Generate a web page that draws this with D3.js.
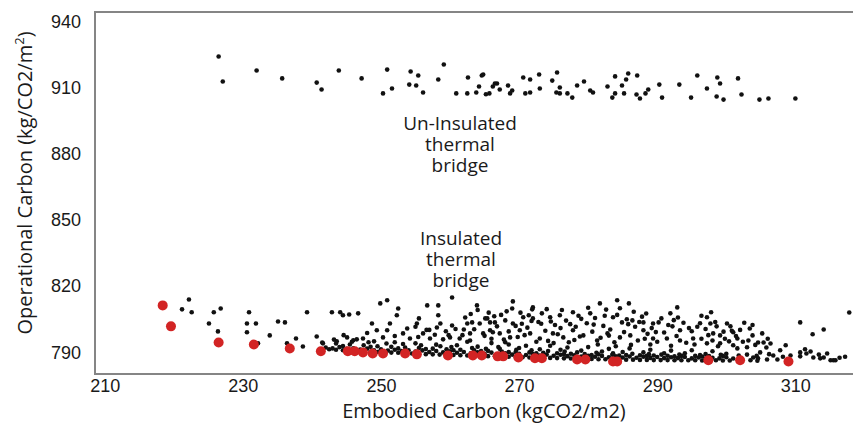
<!DOCTYPE html>
<html>
<head>
<meta charset="utf-8">
<script src="https://cdn.jsdelivr.net/npm/d3@7"></script>
<style>
  body { margin: 0; background: #fff; }
  svg { display: block; font-family: 'Open Sans', sans-serif; }
  .tick text { font-size: 18px; fill: #1a1a1a; }
  .title { font-size: 20px; fill: #1a1a1a; }
  .note { font-size: 19px; fill: #1a1a1a; }
</style>
</head>
<body>
<script>
var xTicks = [210, 230, 250, 270, 290, 310],
    yTicks = [790, 820, 850, 880, 910, 940];

// Un-insulated thermal bridge designs [embodied, operational]
var unInsulated = [
  [226.5,924.1],[227.1,912.8],[232.0,917.8],[235.7,914.2],[240.7,912.3],[241.4,909.2],
  [243.9,917.8],[247.2,914.2],[250.3,907.4],[250.9,918.2],[251.6,909.6],[254.3,917.3],
  [255.4,915.5],[254.1,911.4],[255.1,911.0],[256.1,907.8],[259.1,920.5],[258.3,913.7],
  [260.9,907.4],[262.5,907.4],[262.6,914.6],[263.8,907.8],[264.6,915.5],[264.2,910.5],
  [265.7,907.4],[266.2,910.5],[266.8,911.9],[264.8,916.0],[265.2,907.0],[266.5,911.9],
  [267.2,909.2],[268.4,911.0],[268.7,907.4],[269.0,908.7],[270.6,914.6],[271.6,913.7],
  [270.9,907.4],[271.6,907.8],[272.9,916.0],[273.0,909.6],[274.8,913.2],[275.5,916.9],
  [275.4,907.8],[275.9,910.1],[275.9,907.4],[277.0,907.4],[277.7,905.5],[278.4,911.0],
  [279.4,912.8],[280.3,908.7],[280.7,907.8],[282.8,910.5],[283.5,905.5],[283.9,915.1],
  [283.9,907.4],[284.9,911.0],[285.5,913.7],[285.8,916.4],[287.1,915.5],[285.2,907.4],
  [287.0,906.9],[287.5,905.1],[288.3,907.4],[288.7,909.2],[290.3,911.4],[290.7,905.5],
  [293.2,911.4],[294.9,905.5],[295.8,915.5],[297.2,909.6],[298.7,914.6],[299.1,911.9],
  [298.6,906.0],[299.6,904.6],[301.7,914.2],[302.2,906.9],[304.8,904.6],[306.1,905.1],
  [310.0,905.1]
];

// Insulated thermal bridge designs
var insulated = [
  [222.2,814.0],[221.2,809.5],[222.6,808.2],[225.8,808.2],[226.8,809.9],[225.1,803.1],
  [226.4,799.5],[230.9,808.2],[230.6,803.1],[231.9,803.1],[230.6,799.1],[232.2,794.1],
  [233.9,797.7],[235.1,804.0],[236.1,803.6],[236.4,794.1],[237.7,796.3],[239.3,808.2],
  [238.7,792.7],[240.7,797.2],[242.9,808.2],[244.1,808.2],[244.5,806.8],[245.4,807.2],
  [246.7,807.7],[245.1,796.8],[248.7,803.1],[249.9,812.2],[250.9,813.6],[251.3,803.1],
  [252.5,809.9],[252.3,806.8],[255.2,803.1],[255.5,805.4],[256.7,811.3],[258.3,811.3],
  [258.3,806.8],[260.3,814.9],[258.1,801.3],[260.3,802.2],[258.6,803.1],[263.9,811.3],
  [262.5,803.1],[263.2,803.6],[264.3,803.1],[265.1,805.4],[265.8,803.6],[249.4,800.0],
  [250.9,800.0],[250.3,796.8],[247.4,796.3],[246.5,795.9],[243.6,795.0],[241.6,794.1],
  [253.2,798.6],[254.2,796.3],[256.1,798.6],[257.1,796.3],[259.0,795.9],[260.0,796.8],
  [261.4,796.3],[262.9,798.6],[264.8,798.6],[262.9,795.4],[266.2,799.1],
  [269.1,813.1],[269.0,809.9],[271.9,809.5],[272.0,810.4],[265.4,805.4],[266.5,803.6],
  [268.0,804.5],[269.1,803.1],[270.6,805.9],[272.0,805.4],[273.3,807.7],[274.5,805.9],
  [275.9,806.8],[277.8,808.2],[280.3,807.7],[281.7,812.2],[284.2,813.6],[285.9,812.2],
  [283.6,805.9],[284.9,803.6],[286.4,804.5],[288.0,803.6],[289.4,803.1],[291.9,807.7],
  [292.9,810.4],[293.3,800.0],[297.2,805.9],[297.7,803.1],[300.1,803.1],[298.1,798.6],
  [299.1,797.7],[301.0,799.1],[301.6,796.3],[303.8,797.7],[304.6,794.5],[305.4,794.5],
  [265.8,800.0],[267.2,798.6],[268.7,796.8],[270.1,800.0],[271.6,798.6],[273.0,796.3],
  [274.9,798.6],[276.4,796.8],[277.8,800.0],[279.3,797.7],[281.3,795.4],[282.8,798.6],
  [284.6,796.8],[286.1,797.7],[288.0,800.0],[289.4,796.3],[291.4,796.3],[293.3,795.4],
  [295.2,796.3],[297.2,794.1],[299.1,794.1],[301.0,793.2],[303.0,792.3],[304.9,790.0],
  [306.8,788.6],[309.3,788.6],[310.7,790.0],[312.6,787.7],[314.1,787.7],[315.5,786.4],
  [310.7,803.6],[312.5,798.2],[314.1,800.4],[317.8,808.1],
  [315.1,786.4],[315.8,786.4],[313.6,787.3],[314.6,789.5],[311.6,789.5],[310.7,788.2],
  [307.4,786.8],[305.9,786.8],[304.6,787.3],[303.9,787.7],
  // dense band just above the optimum front
  [242,792.2],[243,791.8],[244,792.4],[245,791.6],[246,791.9],[247,791.3],[248,791.7],
  [249,791.0],[250,791.4],[251,790.8],[252,791.2],[253,790.6],[254,791.0],[255,790.4],
  [256,790.9],[257,790.2],[258,790.6],[259,790.0],[260,790.5],[261,789.8],[262,790.2],
  [263,789.6],[264,790.0],[265,789.4],[266,789.9],[267,789.2],[268,789.6],[269,789.0],
  [270,789.4],[271,788.8],[272,789.2],[273,788.6],[274,789.0],[275,788.5],[276,788.9],
  [277,788.3],[278,788.7],[279,788.1],[280,788.5],[281,788.0],[282,788.4],[283,787.8],
  [284,788.2],[285,787.7],[286,788.1],[287,787.6],[288,788.0],[289,787.5],[290,787.9],
  [291,787.4],[292,787.8],[293,787.4],[294,787.9],[295,787.3],[296,787.7],[297,787.2],
  [298,787.6],[299,787.3],[300,787.8],[301,787.2],[302,787.5],
  [242.5,791.4],[243.5,791.2],[244.5,791.0],[245.5,790.9],[246.5,790.7],[247.5,790.5],
  [248.5,790.3],[249.5,790.2],[250.5,790.0],[251.5,789.9],[252.5,789.8],[253.5,789.6],
  [254.5,789.5],[255.5,789.3],[256.5,789.2],[257.5,789.1],[258.5,789.0],[259.5,788.9],
  [260.5,788.8],[261.5,788.7],[262.5,788.6],[263.5,788.5],[264.5,788.4],[265.5,788.3],
  [266.5,788.3],[267.5,788.1],[268.5,788.0],[269.5,787.9],[270.5,787.8],[271.5,787.7],
  [272.5,787.6],[273.5,787.5],[274.5,787.5],[275.5,787.4],[276.5,787.3],[277.5,787.2],
  [278.5,787.1],[279.5,787.1],[280.5,787.0],[281.5,786.9],[282.5,786.9],[283.5,786.8],
  [284.5,786.8],[285.5,786.7],[286.5,786.7],[287.5,786.6],[288.5,786.6],[289.5,786.5],
  [290.5,786.5],[291.5,786.5],[292.5,786.4],[293.5,786.4],[294.5,786.4],[295.5,786.4],
  [296.5,786.3],[298.5,786.4],[299.5,786.3],[300.5,786.3],[303.5,786.4],[304.5,786.2],
  [241.5,794.5],[243.5,794.0],[245.5,793.6],[247.5,793.2],[249.5,792.8],[251.5,792.5],
  [253.5,792.2],[255.5,792.0],[257.5,791.7],[259.5,791.4],[261.5,791.2],[263.5,790.9],
  [265.5,790.7],[267.5,790.4],[269.5,790.2],[271.5,790.0],[273.5,789.8],[275.5,789.6],
  [277.5,789.4],[279.5,789.2],[281.5,789.1],[283.5,788.9],[285.5,788.8],[287.5,788.7],
  [289.5,788.6],[291.5,788.5],[293.5,788.4],[295.5,788.4],[297.5,788.3],[299.5,788.4],
  [244.5,792.9],[248.5,792.5],[252.5,791.8],[256.5,791.5],[260.5,791.0],[264.5,790.6],
  [268.5,790.1],[272.5,789.6],[276.5,789.2],[280.5,788.8],[284.5,788.6],[288.5,788.4],
  [292.5,788.2],[296.5,788.1],
  [246,795.5],[249,795.0],[252,794.6],[255,794.1],[258,793.5],[261,793.2],[264,792.6],
  [267,792.4],[270,792.0],[273,791.4],[276,791.2],[279,790.8],[282,790.4],[285,790.2],
  [288,790.0],[291,789.6],[294,789.6],[297,789.3],[300,789.4],[303,789.0],
  [262.5,794.8],[266,794.2],[268.5,793.6],[271,793.0],[274.5,793.0],[277,792.2],
  [280,792.4],[283,791.6],[286,791.8],[289,791.2],[292,790.8],[295,791.0],[298,790.5],
  [243.2,795.8],[245.8,794.8],[248.2,794.6],[250.8,794.0],[253.2,793.8],[255.8,793.2],
  [258.6,792.8],[260.2,792.4],[263.2,792.0],[265.2,791.6],[267.2,791.6],[269.6,791.2],
  [271.8,791.0],[274.2,790.6],[276.6,790.4],[278.4,790.0],[281.2,789.8],[283.6,789.6],
  [286.4,789.4],[288.8,789.2],[290.6,789.0],[293.2,789.0],[296.2,788.8],[299.2,788.9],
  [301.8,788.6],[304.4,788.4],[306.2,789.2],[308.2,788.0],
  // middle cloud
  [263.5,800.5],[265,797.5],[266.8,801.8],[267.8,795.8],[268.5,799.5],[269.5,802.0],
  [270.8,797.8],[271.2,801.2],[272.5,794.8],[272.8,803.8],[273.8,799.8],[274.2,795.2],
  [275.2,802.4],[275.6,798.2],[276.8,804.4],[277.2,794.6],[278.2,801.6],[278.8,797.2],
  [279.8,803.2],[280.6,799.4],[281.0,805.6],[281.8,796.6],[282.2,802.0],[283.2,800.4],
  [283.8,794.6],[284.2,807.0],[285.2,799.2],[285.6,805.0],[286.8,801.6],[287.2,795.4],
  [287.8,806.2],[288.6,798.4],[289.2,801.0],[290.0,794.8],[290.6,805.4],[291.0,799.0],
  [292.2,801.8],[292.8,797.4],[293.8,803.4],[294.2,794.4],[295.0,799.6],[295.8,801.6],
  [296.4,796.2],[297.0,800.6],[298.0,795.4],[298.6,801.8],[299.6,799.4],[300.4,795.0],
  [301.4,797.4],[302.4,794.8],[303.2,795.4],[304.2,793.4],[305.8,792.2],[306.4,794.0],
  [307.8,791.0],[308.6,793.2],[311.4,791.4],[312.2,790.4],[313.4,789.0],[316.4,787.6],
  [317.2,788.0],
  [253.8,800.8],[255.0,801.6],[256.6,800.2],[257.8,798.0],[259.4,799.6],[260.8,800.6],
  [261.8,797.8],[262.2,805.8],[263.0,807.4],[264.0,809.2],[265.6,808.0],[266.4,806.4],
  [267.4,807.0],[268.2,808.6],[270.2,808.0],[271.4,806.8],[273.2,803.0],[274.0,809.6],
  [276.2,809.2],[278.6,806.6],[280.0,810.2],[282.6,809.4],[284.6,810.0],[286.6,808.4],
  [288.4,807.6],[290.2,803.6],[292.4,804.6],[296.4,806.6],[297.8,808.2],[298.4,803.8],
  [300.6,801.8],[302.6,803.4],[303.4,800.8],[305.2,798.6],[306.0,796.2],
  [270.4,803.0],[271.8,804.2],[274.6,804.0],[276.0,801.0],[277.4,802.8],[279.0,805.2],
  [280.8,802.6],[282.4,806.6],[283.0,797.6],[285.8,802.8],[287.4,803.8],[288.2,796.2],
  [289.8,799.2],[291.6,802.4],[293.0,805.8],[294.6,801.0],[296.2,803.2],[297.4,797.8],
  [299.8,796.2],[300.8,799.8],[302.0,800.2],[303.8,802.4],[275.0,794.2],[278.0,795.6],
  [281.4,793.6],[284.0,792.8],[286.2,793.4],[289.0,793.6],[292.0,793.0],[295.4,793.6],
  [298.8,792.8],[301.6,791.8],[266.0,796.2],[268.0,794.6],[269.8,797.0],[262.0,800.4],
  [259.8,797.8],[257.0,800.2],[255.4,797.0],[252.0,797.4],[248.0,798.8],[244.6,797.8]
];

// optimum (red) insulated designs
var optimal = [
  [218.4,811.3],[219.6,801.8],[226.5,794.5],[231.6,793.6],[236.8,791.8],[241.3,790.5],
  [245.2,790.5],[246.2,790.5],[247.4,790.0],[248.8,789.5],[250.3,789.5],[253.5,789.5],
  [255.2,789.1],[259.7,788.6],[263.3,788.6],[264.6,788.6],[266.9,788.2],[267.7,788.2],
  [269.9,787.7],[272.3,787.3],[273.3,787.3],[278.4,786.8],[279.6,786.8],[283.6,785.9],
  [284.2,785.9],[297.4,786.4],[302.0,786.4],[309.0,785.9]
];

var W = 853, H = 427;
var plotL = 95, plotR = 852, plotT = 12, plotB = 374;

var svg = d3.select('body').append('svg')
    .attr('width', W)
    .attr('height', H);

var x = d3.scaleLinear().domain([208.6, 318.2]).range([plotL, plotR]);
var y = d3.scaleLinear().domain([780.2, 944.3]).range([plotB, plotT]);

// frame (left, top, bottom edges)
svg.append('path')
    .attr('d', 'M' + (plotR + 5) + ',' + plotT + 'H' + plotL + 'V' + plotB + 'H' + (plotR + 5))
    .attr('fill', 'none')
    .attr('stroke', '#858585')
    .attr('stroke-width', 2);

var xAxis = svg.append('g')
    .attr('transform', 'translate(0,' + plotB + ')')
    .call(d3.axisBottom(x).tickValues(xTicks).tickSize(0).tickPadding(5));
xAxis.select('.domain').remove();

var yAxis = svg.append('g')
    .attr('transform', 'translate(' + plotL + ',0)')
    .call(d3.axisLeft(y).tickValues(yTicks).tickSize(0).tickPadding(14));
yAxis.select('.domain').remove();
svg.selectAll('.tick text').attr('font-family', null).attr('font-size', null);

// points
svg.append('g').selectAll('circle')
    .data(insulated).enter().append('circle')
    .attr('cx', function(d) { return x(d[0]); })
    .attr('cy', function(d) { return y(d[1]); })
    .attr('r', 2.3)
    .attr('fill', '#111');

svg.append('g').selectAll('circle')
    .data(unInsulated).enter().append('circle')
    .attr('cx', function(d) { return x(d[0]); })
    .attr('cy', function(d) { return y(d[1]); })
    .attr('r', 2.3)
    .attr('fill', '#111');

svg.append('g').selectAll('circle')
    .data(optimal).enter().append('circle')
    .attr('cx', function(d) { return x(d[0]); })
    .attr('cy', function(d) { return y(d[1]); })
    .attr('r', 5)
    .attr('fill', '#d22424');

// annotations
var notes = [
  { lines: ['Un-Insulated', 'thermal', 'bridge'], x: 460, y: 130 },
  { lines: ['Insulated', 'thermal', 'bridge'], x: 461, y: 245 }
];
notes.forEach(function(n) {
    var t = svg.append('text')
        .attr('class', 'note')
        .attr('text-anchor', 'middle')
        .attr('x', n.x)
        .attr('y', n.y);
    n.lines.forEach(function(l, i) {
        t.append('tspan').attr('x', n.x).attr('dy', i ? 21 : 0).text(l);
    });
});

// axis titles
svg.append('text')
    .attr('class', 'title')
    .attr('text-anchor', 'middle')
    .attr('x', 484)
    .attr('y', 418)
    .text('Embodied Carbon (kgCO2/m2)');

var yt = svg.append('text')
    .attr('class', 'title')
    .attr('text-anchor', 'middle')
    .attr('transform', 'translate(32,183) rotate(-90)');
yt.append('tspan').text('Operational Carbon (kg/CO2/m');
yt.append('tspan').attr('font-size', 13).attr('dy', -8).text('2');
yt.append('tspan').attr('dy', 8).text(')');
</script>
</body>
</html>
